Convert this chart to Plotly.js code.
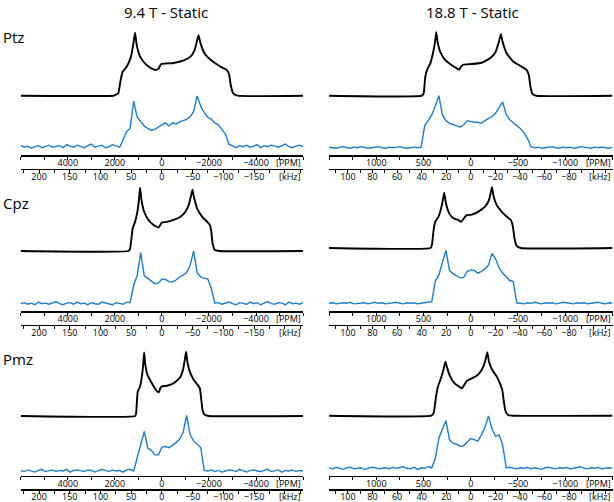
<!DOCTYPE html>
<html>
<head>
<meta charset="utf-8">
<script src="https://cdn.plot.ly/plotly-3.0.1.min.js"></script>
<style>html,body{margin:0;padding:0;background:#fff}#chart{width:614px;height:502px}</style>
</head>
<body>
<div id="chart"></div>
<script>
// ---------------- DATA ----------------
const fieldTitles = ['9.4 T - Static', '18.8 T - Static'];
const sampleNames = ['Ptz', 'Cpz', 'Pmz'];

// tick labels / tick positions (ppm and kHz)
const ppmTicks94 = [4000, 2000, 0, -2000, -4000];
const ppmMinor94 = [6000, 5000, 3000, 1000, -1000, -3000, -5000, -6000];
const khzTicks94 = [200, 150, 100, 50, 0, -50, -100, -150];
const khzMinor94 = [225, 175, 125, 75, 25, -25, -75, -125, -175, -200, -225];
const ppmTicks188 = [1000, 500, 0, -500, -1000];
const ppmMinor188 = [1500, 1250, 750, 250, -250, -750, -1250, -1500];
const khzTicks188 = [100, 80, 60, 40, 20, 0, -20, -40, -60, -80];
const khzMinor188 = [110, 90, 70, 50, 30, 10, -10, -30, -50, -70, -90, -100, -110];

// spectral grid of the experimental spectra (ppm start, step, count)
const expGrid94 = {start: 6000, step: -150, n: 81};
const expGrid188 = {start: 1500, step: -37.5, n: 81};

// simulated spectra (black): ppm positions and intensity (%)
const simPtz94_ppm = [6000,2068,1997,1854,1754,1669,1497,1312,1212,1141,1069,927,712,427,242,142,42,-144,-500,-929,-1214,-1385,-1499,-1556,-1642,-1813,-2070,-2498,-2755,-2855,-2926,-3026,-3212,-6000];
const simPtz94_int = [0,0,1,4,25,38,46,62,83,100,80,62,51,43,41,43,50,51,52,56,62,72,88,96,83,67,57,46,41,34,17,4,0,0];
const simCpz94_ppm = [6000,1426,1355,1241,1141,1041,970,927,870,755,570,356,142,70,-1,-215,-500,-786,-1000,-1143,-1242,-1300,-1357,-1499,-1713,-1927,-2042,-2099,-2156,-2241,-2427,-6000];
const simCpz94_int = [0,0,3,36,46,62,83,100,81,62,49,41,37,41,45,46,49,54,62,73,88,97,86,67,54,46,41,31,12,2,0,0];
const simPmz94_ppm = [6000,1141,1098,1027,927,841,784,755,713,613,427,242,127,70,-1,-215,-500,-757,-900,-971,-1028,-1085,-1185,-1357,-1528,-1613,-1670,-1728,-1813,-1999,-6000];
const simPmz94_int = [0,0,4,38,46,64,85,99,82,64,51,40,37,43,46,47,51,59,72,87,100,84,69,56,48,43,27,9,2,0,0];
const simPtz188_ppm = [1500,516,498,481,456,428,393,375,365,351,323,270,200,147,123,102,77,-11,-116,-204,-263,-298,-319,-337,-379,-449,-537,-589,-614,-632,-653,-695,-1500];
const simPtz188_int = [0,0,4,30,43,51,72,88,100,85,69,56,48,43,41,46,49,50,52,59,69,85,97,85,67,54,46,41,33,14,3,0,0];
const simCpz188_ppm = [1500,428,411,393,376,340,305,281,263,228,183,130,102,67,42,-11,-81,-151,-193,-214,-225,-239,-274,-326,-379,-425,-446,-463,-484,-530,-1500];
const simCpz188_int = [0,0,5,30,43,52,71,91,74,57,49,46,43,50,54,55,60,68,79,93,100,87,71,60,52,46,35,16,4,0,0];
const simPmz188_ppm = [1500,418,393,368,347,323,295,277,267,253,218,172,123,95,67,42,-11,-63,-116,-151,-175,-193,-228,-274,-309,-333,-351,-368,-396,-449,-1500];
const simPmz188_int = [0,0,4,30,46,56,69,80,85,77,62,51,46,43,49,55,59,63,72,85,100,85,72,62,51,41,22,7,1,0,0];

// experimental spectra (blue): intensity (%) on the grids above
const expPtz94 = [2,-1,1,-3,0,2,-2,1,3,-1,0,2,-2,4,1,-1,3,0,-2,2,5,-1,1,3,-2,0,4,1,-1,
  13,30,36,90,58,49,41,36,32,34,39,43,47,41,47,45,49,51,54,59,69,100,80,67,58,54,47,43,34,25,5,
  1,-2,2,0,3,-1,1,4,-2,2,0,3,1,-1,2,5,0,-2,1,3,0];
const expCpz94 = [0,2,-1,1,-2,3,0,1,-1,2,4,0,-2,1,2,-1,3,0,1,-2,2,0,-1,3,1,0,-2,2,1,-1,3,
  2,35,54,97,53,48,43,38,39,47,46,42,41,45,51,54,59,73,100,58,51,48,47,29,1,
  2,-1,1,3,0,-2,2,1,-1,3,0,2,-2,1,4,0,-1,2,1,-2,3,0,1,-1,2];
const expPmz94 = [1,-1,2,0,-2,1,3,-1,0,2,-1,1,0,3,-2,1,2,0,-1,2,1,-2,0,3,1,-1,2,0,1,-2,2,3,0,
  23,50,71,41,37,29,29,43,44,42,46,51,57,69,100,65,54,48,42,
  1,0,2,-1,1,-2,0,2,1,-1,3,0,-2,1,2,0,-1,1,3,-1,0,2,-2,1,0,2,-1,1,0];
const expPtz188 = [1,0,-1,1,2,0,-1,1,0,2,1,-1,0,1,2,0,-1,1,0,1,2,0,-1,0,1,0,1,
  42,52,63,80,100,63,52,47,44,42,40,44,52,50,49,49,47,52,56,60,66,78,88,64,54,48,42,37,29,18,2,
  0,1,-1,0,1,2,0,-1,1,0,1,-1,0,2,1,0,-1,1,0,1,0,-1,1];
const expCpz188 = [0,1,-1,0,1,0,2,-1,0,1,1,-1,0,2,0,1,-1,0,1,2,0,-1,1,0,1,-1,0,1,2,
  3,42,53,77,100,62,56,52,48,49,60,63,62,57,60,65,72,94,84,67,57,50,43,41,1,
  0,-1,1,0,2,0,-1,1,0,1,-1,0,2,1,0,-1,1,0,1,-1,0,1,2,0,-1,1,0];
const expPmz188 = [1,-1,2,0,-2,1,2,-1,0,1,-2,0,2,1,-1,0,1,-1,2,0,1,3,0,-1,2,-2,1,0,3,1,
  19,57,75,91,55,48,46,42,43,51,57,55,52,64,78,100,75,61,64,45,1,
  2,0,-1,1,0,2,-1,1,0,-2,1,2,0,-1,1,0,2,-1,0,1,3,0,-1,1,0,2,-1,0,1,0];

// ---------------- LAYOUT GEOMETRY ----------------
const W = 614, H = 502;
const FONT = 'Open Sans, Noto Sans, sans-serif';
const BLUE = '#1f7dcb';
const cols = [
  {x0: 20.5, x1: 303.3, ppmR: 6010, ratio: 26.1, title: fieldTitles[0], titleX: 166,
   ppmT: ppmTicks94, ppmM: ppmMinor94, khzT: khzTicks94, khzM: khzMinor94, grid: expGrid94,
   sim: [[simPtz94_ppm, simPtz94_int], [simCpz94_ppm, simCpz94_int], [simPmz94_ppm, simPmz94_int]],
   exp: [expPtz94, expCpz94, expPmz94],
   geo: [[95.7,32.7,146.7,96],[251,187.7,303.7,251],[416,351.7,471,415.3]]},
  {x0: 329, x1: 612.5, ppmR: 1500.5, ratio: 13.0, title: fieldTitles[1], titleX: 472,
   ppmT: ppmTicks188, ppmM: ppmMinor188, khzT: khzTicks188, khzM: khzMinor188, grid: expGrid188,
   sim: [[simPtz188_ppm, simPtz188_int], [simCpz188_ppm, simCpz188_int], [simPmz188_ppm, simPmz188_int]],
   exp: [expPtz188, expCpz188, expPmz188],
   geo: [[95.7,32.3,147.7,95.7],[248,187.3,303.3,250.3],[415.7,352.3,468.3,416]]}
];
const rows = [
  {ppmLine: 155, khzLine: 168.5, labelY: 37},
  {ppmLine: 311, khzLine: 324.5, labelY: 203},
  {ppmLine: 475.7, khzLine: 489, labelY: 359}
];

const data = [];
const layout = {
  width: W, height: H, margin: {l: 0, r: 0, t: 0, b: 0},
  paper_bgcolor: '#fff', plot_bgcolor: 'rgba(0,0,0,0)', showlegend: false,
  font: {family: FONT, color: '#000'},
  annotations: []
};
const py = v => 1 - v / H;

function axisStyle(tickvals, minorvals) {
  return {
    showline: true, linecolor: '#000', linewidth: 1.5,
    ticks: 'outside', ticklen: 3, tickwidth: 1, tickcolor: '#000',
    tickmode: 'array', tickvals: tickvals,
    minor: {tickmode: 'array', tickvals: minorvals, ticks: 'outside', ticklen: 3, tickwidth: 1, tickcolor: '#000', showgrid: false},
    tickfont: {family: FONT, size: 9, color: '#000'},
    ticklabelstandoff: -4,
    showgrid: false, zeroline: false, fixedrange: true
  };
}
function yDomain(b, p) {
  const h = b - p;
  return [py(b + 0.1 * h), py(p - 0.1 * h)];
}

cols.forEach((c, ci) => {
  layout.annotations.push({text: c.title, xref: 'paper', yref: 'paper', x: c.titleX / W, y: py(12),
    xanchor: 'center', yanchor: 'middle', showarrow: false, font: {family: FONT, size: 15, color: '#000'}});
  const grid = [];
  for (let i = 0; i < c.grid.n; i++) grid.push(c.grid.start + c.grid.step * i);
  rows.forEach((r, ri) => {
    const k = ri * 2 + ci;
    const xa = 2 * k + 1, xb = 2 * k + 2, ya = 2 * k + 1, yb = 2 * k + 2;
    const g = c.geo[ri];
    layout['xaxis' + xa] = Object.assign(axisStyle(c.ppmT, c.ppmM), {
      domain: [c.x0 / W, c.x1 / W], range: [c.ppmR, -c.ppmR], anchor: 'free', position: py(r.ppmLine)});
    layout['xaxis' + xb] = Object.assign(axisStyle(c.khzT, c.khzM), {
      overlaying: 'x' + xa, range: [c.ppmR / c.ratio, -c.ppmR / c.ratio], anchor: 'free', position: py(r.khzLine), side: 'bottom'});
    layout['yaxis' + ya] = {domain: yDomain(g[0], g[1]), range: [-10, 110], visible: false, fixedrange: true};
    layout['yaxis' + yb] = {domain: yDomain(g[2], g[3]), range: [-10, 110], visible: false, fixedrange: true};
    data.push({x: c.sim[ri][0], y: c.sim[ri][1], xaxis: 'x' + xa, yaxis: 'y' + ya, mode: 'lines',
      line: {color: '#000', width: 1.9, shape: 'spline', smoothing: 0.4}, hoverinfo: 'skip'});
    data.push({x: grid, y: c.exp[ri], xaxis: 'x' + xa, yaxis: 'y' + yb, mode: 'lines',
      line: {color: BLUE, width: 1.4}, hoverinfo: 'skip'});
    data.push({x: [0], y: [-50], xaxis: 'x' + xb, yaxis: 'y' + yb, mode: 'markers',
      marker: {opacity: 0}, hoverinfo: 'skip'});
    layout.annotations.push({text: '[PPM]', xref: 'paper', yref: 'paper', x: c.x1 / W, y: py(r.ppmLine + 7.5),
      xanchor: 'right', yanchor: 'middle', showarrow: false, font: {family: FONT, size: 9, color: '#000'}});
    layout.annotations.push({text: '[kHz]', xref: 'paper', yref: 'paper', x: c.x1 / W, y: py(r.khzLine + 7.5),
      xanchor: 'right', yanchor: 'middle', showarrow: false, font: {family: FONT, size: 9, color: '#000'}});
    if (ci === 0) {
      layout.annotations.push({text: sampleNames[ri], xref: 'paper', yref: 'paper', x: 1 / W, y: py(r.labelY),
        xanchor: 'left', yanchor: 'middle', showarrow: false, font: {family: FONT, size: 15, color: '#000'}});
    }
  });
});

Plotly.newPlot('chart', data, layout, {staticPlot: true, displayModeBar: false});
</script>
</body>
</html>
